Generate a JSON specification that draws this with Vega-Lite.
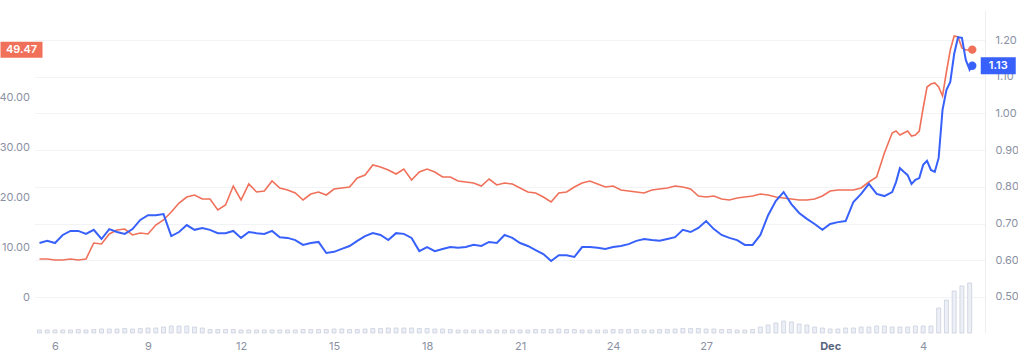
{
  "$schema": "https://vega.github.io/schema/vega-lite/v6.json",
  "width": 1018,
  "height": 356,
  "autosize": {"type": "fit", "contains": "padding"},
  "padding": {"left": -1.5, "top": 10, "right": -1, "bottom": 5},
  "background": "white",
  "config": {
    "view": {"stroke": null},
    "font": "Inter",
    "axis": {"labelFont": "Inter", "labelColor": "#8a91a3", "labelFontSize": 11, "ticks": false, "domain": false, "grid": false}
  },
  "datasets": {
    "d": [
      {"t":"2021-11-05T12:00:00Z","orange":7.6,"blue":0.647,"vol":6},
      {"t":"2021-11-05T18:00:00Z","orange":7.6,"blue":0.653,"vol":6},
      {"t":"2021-11-06T00:00:00Z","orange":7.4,"blue":0.647,"vol":6},
      {"t":"2021-11-06T06:00:00Z","orange":7.4,"blue":0.669,"vol":6},
      {"t":"2021-11-06T12:00:00Z","orange":7.6,"blue":0.680,"vol":6},
      {"t":"2021-11-06T18:00:00Z","orange":7.4,"blue":0.680,"vol":7},
      {"t":"2021-11-07T00:00:00Z","orange":7.6,"blue":0.672,"vol":6},
      {"t":"2021-11-07T06:00:00Z","orange":10.8,"blue":0.683,"vol":7},
      {"t":"2021-11-07T12:00:00Z","orange":10.6,"blue":0.658,"vol":8},
      {"t":"2021-11-07T18:00:00Z","orange":12.6,"blue":0.685,"vol":8},
      {"t":"2021-11-08T00:00:00Z","orange":13.4,"blue":0.677,"vol":8},
      {"t":"2021-11-08T06:00:00Z","orange":13.6,"blue":0.672,"vol":9},
      {"t":"2021-11-08T12:00:00Z","orange":12.4,"blue":0.685,"vol":8},
      {"t":"2021-11-08T18:00:00Z","orange":12.8,"blue":0.710,"vol":9},
      {"t":"2021-11-09T00:00:00Z","orange":12.6,"blue":0.723,"vol":10},
      {"t":"2021-11-09T06:00:00Z","orange":14.4,"blue":0.723,"vol":10},
      {"t":"2021-11-09T12:00:00Z","orange":15.4,"blue":0.726,"vol":12},
      {"t":"2021-11-09T18:00:00Z","orange":17.0,"blue":0.666,"vol":14},
      {"t":"2021-11-10T00:00:00Z","orange":18.8,"blue":0.677,"vol":14},
      {"t":"2021-11-10T06:00:00Z","orange":20.0,"blue":0.696,"vol":14},
      {"t":"2021-11-10T12:00:00Z","orange":20.4,"blue":0.683,"vol":12},
      {"t":"2021-11-10T18:00:00Z","orange":19.6,"blue":0.688,"vol":10},
      {"t":"2021-11-11T00:00:00Z","orange":19.6,"blue":0.683,"vol":7},
      {"t":"2021-11-11T06:00:00Z","orange":17.4,"blue":0.674,"vol":7},
      {"t":"2021-11-11T12:00:00Z","orange":18.4,"blue":0.674,"vol":7},
      {"t":"2021-11-11T18:00:00Z","orange":22.2,"blue":0.680,"vol":7},
      {"t":"2021-11-12T00:00:00Z","orange":19.4,"blue":0.661,"vol":6},
      {"t":"2021-11-12T06:00:00Z","orange":22.6,"blue":0.677,"vol":6},
      {"t":"2021-11-12T12:00:00Z","orange":21.0,"blue":0.674,"vol":6},
      {"t":"2021-11-12T18:00:00Z","orange":21.2,"blue":0.672,"vol":6},
      {"t":"2021-11-13T00:00:00Z","orange":23.2,"blue":0.680,"vol":6},
      {"t":"2021-11-13T06:00:00Z","orange":21.8,"blue":0.663,"vol":6},
      {"t":"2021-11-13T12:00:00Z","orange":21.4,"blue":0.661,"vol":6},
      {"t":"2021-11-13T18:00:00Z","orange":20.8,"blue":0.655,"vol":6},
      {"t":"2021-11-14T00:00:00Z","orange":19.4,"blue":0.642,"vol":7},
      {"t":"2021-11-14T06:00:00Z","orange":20.6,"blue":0.647,"vol":7},
      {"t":"2021-11-14T12:00:00Z","orange":21.0,"blue":0.650,"vol":7},
      {"t":"2021-11-14T18:00:00Z","orange":20.4,"blue":0.620,"vol":7},
      {"t":"2021-11-15T00:00:00Z","orange":21.6,"blue":0.623,"vol":8},
      {"t":"2021-11-15T06:00:00Z","orange":21.8,"blue":0.631,"vol":8},
      {"t":"2021-11-15T12:00:00Z","orange":22.0,"blue":0.639,"vol":7},
      {"t":"2021-11-15T18:00:00Z","orange":23.8,"blue":0.653,"vol":7},
      {"t":"2021-11-16T00:00:00Z","orange":24.4,"blue":0.666,"vol":8},
      {"t":"2021-11-16T06:00:00Z","orange":26.4,"blue":0.674,"vol":9},
      {"t":"2021-11-16T12:00:00Z","orange":26.0,"blue":0.669,"vol":9},
      {"t":"2021-11-16T18:00:00Z","orange":25.4,"blue":0.655,"vol":10},
      {"t":"2021-11-17T00:00:00Z","orange":24.6,"blue":0.674,"vol":10},
      {"t":"2021-11-17T06:00:00Z","orange":25.6,"blue":0.672,"vol":10},
      {"t":"2021-11-17T12:00:00Z","orange":23.4,"blue":0.661,"vol":10},
      {"t":"2021-11-17T18:00:00Z","orange":25.0,"blue":0.625,"vol":9},
      {"t":"2021-11-18T00:00:00Z","orange":25.6,"blue":0.636,"vol":9},
      {"t":"2021-11-18T06:00:00Z","orange":25.0,"blue":0.625,"vol":8},
      {"t":"2021-11-18T12:00:00Z","orange":24.0,"blue":0.631,"vol":8},
      {"t":"2021-11-18T18:00:00Z","orange":24.0,"blue":0.636,"vol":7},
      {"t":"2021-11-19T00:00:00Z","orange":23.2,"blue":0.634,"vol":6},
      {"t":"2021-11-19T06:00:00Z","orange":23.0,"blue":0.636,"vol":6},
      {"t":"2021-11-19T12:00:00Z","orange":22.8,"blue":0.642,"vol":6},
      {"t":"2021-11-19T18:00:00Z","orange":22.2,"blue":0.639,"vol":6},
      {"t":"2021-11-20T00:00:00Z","orange":23.6,"blue":0.650,"vol":6},
      {"t":"2021-11-20T06:00:00Z","orange":22.4,"blue":0.647,"vol":6},
      {"t":"2021-11-20T12:00:00Z","orange":22.8,"blue":0.669,"vol":6},
      {"t":"2021-11-20T18:00:00Z","orange":22.6,"blue":0.661,"vol":6},
      {"t":"2021-11-21T00:00:00Z","orange":21.8,"blue":0.647,"vol":6},
      {"t":"2021-11-21T06:00:00Z","orange":21.0,"blue":0.639,"vol":6},
      {"t":"2021-11-21T12:00:00Z","orange":20.8,"blue":0.628,"vol":7},
      {"t":"2021-11-21T18:00:00Z","orange":20.0,"blue":0.617,"vol":7},
      {"t":"2021-11-22T00:00:00Z","orange":19.0,"blue":0.598,"vol":7},
      {"t":"2021-11-22T06:00:00Z","orange":20.8,"blue":0.614,"vol":8},
      {"t":"2021-11-22T12:00:00Z","orange":21.0,"blue":0.614,"vol":7},
      {"t":"2021-11-22T18:00:00Z","orange":22.0,"blue":0.609,"vol":7},
      {"t":"2021-11-23T00:00:00Z","orange":22.8,"blue":0.636,"vol":6},
      {"t":"2021-11-23T06:00:00Z","orange":23.2,"blue":0.636,"vol":6},
      {"t":"2021-11-23T12:00:00Z","orange":22.6,"blue":0.634,"vol":6},
      {"t":"2021-11-23T18:00:00Z","orange":22.0,"blue":0.631,"vol":6},
      {"t":"2021-11-24T00:00:00Z","orange":22.2,"blue":0.636,"vol":7},
      {"t":"2021-11-24T06:00:00Z","orange":21.4,"blue":0.639,"vol":7},
      {"t":"2021-11-24T12:00:00Z","orange":21.2,"blue":0.644,"vol":7},
      {"t":"2021-11-24T18:00:00Z","orange":21.0,"blue":0.653,"vol":7},
      {"t":"2021-11-25T00:00:00Z","orange":20.8,"blue":0.658,"vol":6},
      {"t":"2021-11-25T06:00:00Z","orange":21.4,"blue":0.655,"vol":6},
      {"t":"2021-11-25T12:00:00Z","orange":21.6,"blue":0.653,"vol":7},
      {"t":"2021-11-25T18:00:00Z","orange":21.8,"blue":0.658,"vol":7},
      {"t":"2021-11-26T00:00:00Z","orange":22.2,"blue":0.663,"vol":8},
      {"t":"2021-11-26T06:00:00Z","orange":22.0,"blue":0.683,"vol":9},
      {"t":"2021-11-26T12:00:00Z","orange":21.6,"blue":0.677,"vol":9},
      {"t":"2021-11-26T18:00:00Z","orange":20.2,"blue":0.688,"vol":9},
      {"t":"2021-11-27T00:00:00Z","orange":20.0,"blue":0.707,"vol":8},
      {"t":"2021-11-27T06:00:00Z","orange":20.2,"blue":0.685,"vol":8},
      {"t":"2021-11-27T12:00:00Z","orange":19.6,"blue":0.669,"vol":7},
      {"t":"2021-11-27T18:00:00Z","orange":19.4,"blue":0.661,"vol":7},
      {"t":"2021-11-28T00:00:00Z","orange":19.8,"blue":0.655,"vol":6},
      {"t":"2021-11-28T06:00:00Z","orange":20.0,"blue":0.642,"vol":6},
      {"t":"2021-11-28T12:00:00Z","orange":20.2,"blue":0.642,"vol":7},
      {"t":"2021-11-28T18:00:00Z","orange":20.6,"blue":0.669,"vol":12},
      {"t":"2021-11-29T00:00:00Z","orange":20.4,"blue":0.723,"vol":16},
      {"t":"2021-11-29T06:00:00Z","orange":20.0,"blue":0.762,"vol":20},
      {"t":"2021-11-29T12:00:00Z","orange":19.8,"blue":0.786,"vol":24},
      {"t":"2021-11-29T18:00:00Z","orange":19.6,"blue":0.753,"vol":22},
      {"t":"2021-11-30T00:00:00Z","orange":19.4,"blue":0.729,"vol":18},
      {"t":"2021-11-30T06:00:00Z","orange":19.4,"blue":0.713,"vol":16},
      {"t":"2021-11-30T12:00:00Z","orange":19.6,"blue":0.699,"vol":12},
      {"t":"2021-11-30T18:00:00Z","orange":20.2,"blue":0.683,"vol":10},
      {"t":"2021-12-01T00:00:00Z","orange":21.2,"blue":0.699,"vol":8},
      {"t":"2021-12-01T06:00:00Z","orange":21.4,"blue":0.704,"vol":8},
      {"t":"2021-12-01T12:00:00Z","orange":21.4,"blue":0.707,"vol":10},
      {"t":"2021-12-01T18:00:00Z","orange":21.4,"blue":0.759,"vol":10},
      {"t":"2021-12-02T00:00:00Z","orange":21.8,"blue":0.781,"vol":12},
      {"t":"2021-12-02T06:00:00Z","orange":23.0,"blue":0.808,"vol":12},
      {"t":"2021-12-02T12:00:00Z","orange":24.0,"blue":0.781,"vol":14},
      {"t":"2021-12-02T18:00:00Z","orange":28.8,"blue":0.775,"vol":14},
      {"t":"2021-12-03T00:00:00Z","orange":32.8,"blue":0.786,"vol":12},
      {"t":"2021-12-03T03:00:00Z","orange":33.2,"blue":0.813},
      {"t":"2021-12-03T06:00:00Z","orange":32.4,"blue":0.851,"vol":12},
      {"t":"2021-12-03T09:00:00Z","orange":32.8,"blue":0.841},
      {"t":"2021-12-03T12:00:00Z","orange":33.2,"blue":0.832,"vol":12},
      {"t":"2021-12-03T15:00:00Z","orange":32.2,"blue":0.808},
      {"t":"2021-12-03T18:00:00Z","orange":32.4,"blue":0.819,"vol":14},
      {"t":"2021-12-03T21:00:00Z","orange":33.2,"blue":0.824},
      {"t":"2021-12-04T00:00:00Z","orange":37.8,"blue":0.860,"vol":14},
      {"t":"2021-12-04T03:00:00Z","orange":42.0,"blue":0.871},
      {"t":"2021-12-04T06:00:00Z","orange":42.6,"blue":0.846,"vol":14},
      {"t":"2021-12-04T09:00:00Z","orange":42.8,"blue":0.841},
      {"t":"2021-12-04T12:00:00Z","orange":42.0,"blue":0.879,"vol":50},
      {"t":"2021-12-04T15:00:00Z","orange":40.2,"blue":1.010},
      {"t":"2021-12-04T18:00:00Z","orange":45.0,"blue":1.064,"vol":66},
      {"t":"2021-12-04T21:00:00Z","orange":49.4,"blue":1.086},
      {"t":"2021-12-05T00:00:00Z","orange":52.2,"blue":1.162,"vol":84},
      {"t":"2021-12-05T03:00:00Z","orange":52.0,"blue":1.208},
      {"t":"2021-12-05T06:00:00Z","orange":49.8,"blue":1.206,"vol":94},
      {"t":"2021-12-05T09:00:00Z","orange":49.4,"blue":1.146},
      {"t":"2021-12-05T12:00:00Z","orange":49.4,"blue":1.119,"vol":100},
      {"t":"2021-12-05T14:00:00Z","orange":49.47,"blue":1.13}
    ]
  },
  "data": {"name": "d"},
  "encoding": {
    "x": {
      "field": "t", "type": "temporal", "title": null,
      "scale": {"type": "utc", "domain": [
        {"year": 2021, "month": 11, "date": 5, "hours": 12, "utc": true},
        {"year": 2021, "month": 12, "date": 5, "hours": 20, "utc": true}
      ]},
      "axis": {
        "values": [
          {"year": 2021, "month": 11, "date": 6, "utc": true},
          {"year": 2021, "month": 11, "date": 9, "utc": true},
          {"year": 2021, "month": 11, "date": 12, "utc": true},
          {"year": 2021, "month": 11, "date": 15, "utc": true},
          {"year": 2021, "month": 11, "date": 18, "utc": true},
          {"year": 2021, "month": 11, "date": 21, "utc": true},
          {"year": 2021, "month": 11, "date": 24, "utc": true},
          {"year": 2021, "month": 11, "date": 27, "utc": true},
          {"year": 2021, "month": 12, "date": 1, "utc": true},
          {"year": 2021, "month": 12, "date": 4, "utc": true}
        ],
        "labelExpr": "utcdate(datum.value) == 1 ? utcFormat(datum.value, '%b') : utcFormat(datum.value, '%-d')",
        "labelFontWeight": {"condition": {"test": "utcdate(datum.value) == 1", "value": "bold"}, "value": "normal"},
        "labelColor": {"condition": {"test": "utcdate(datum.value) == 1", "value": "#58667e"}, "value": "#8a91a3"},
        "labelPadding": 7,
        "labelFlush": false
      }
    }
  },
  "layer": [
    {
      "mark": {"type": "bar", "width": 4, "fill": "#eceff5", "stroke": "#c5ccdb", "strokeWidth": 0.7},
      "encoding": {
        "y": {"field": "vol", "type": "quantitative", "title": null, "scale": {"domain": [0, 646]}, "axis": null}
      }
    },
    {
      "mark": {"type": "line", "color": "#f0705a", "strokeWidth": 1.6},
      "encoding": {
        "y": {
          "field": "orange", "type": "quantitative", "title": null,
          "scale": {"domain": [-7.2, 57.4], "nice": false, "zero": false},
          "axis": {
            "orient": "left",
            "values": [0, 10, 20, 30, 40],
            "labelExpr": "datum.value == 0 ? '0' : format(datum.value, '.2f')",
            "labelPadding": 5
          }
        }
      }
    },
    {
      "mark": {"type": "line", "color": "#3861fb", "strokeWidth": 2},
      "encoding": {
        "y": {
          "field": "blue", "type": "quantitative", "title": null,
          "scale": {"domain": [0.4019, 1.282], "nice": false, "zero": false},
          "axis": {
            "orient": "right",
            "values": [0.5, 0.6, 0.7, 0.8, 0.9, 1.0, 1.1, 1.2],
            "format": ".2f",
            "labelPadding": 10,
            "grid": true,
            "gridColor": "#f1f3f6",
            "domain": true,
            "domainColor": "#eceef2"
          }
        }
      }
    },
    {
      "mark": {"type": "point", "filled": true, "opacity": 1, "color": "#f0705a", "size": 70},
      "encoding": {
        "x": {"aggregate": "max", "field": "t", "type": "temporal"},
        "y": {"aggregate": {"argmax": "t"}, "field": "orange", "type": "quantitative", "scale": {"domain": [-7.2, 57.4], "nice": false, "zero": false}, "axis": null}
      }
    },
    {
      "mark": {"type": "point", "shape": "M-21,-8H21V8H-21Z", "size": 4, "filled": true, "opacity": 1, "color": "#f0705a", "xOffset": -18},
      "encoding": {
        "x": {"aggregate": "min", "field": "t", "type": "temporal"},
        "y": {"aggregate": {"argmax": "t"}, "field": "orange", "type": "quantitative", "scale": {"domain": [-7.2, 57.4], "nice": false, "zero": false}, "axis": null}
      }
    },
    {
      "mark": {"type": "text", "color": "white", "fontSize": 11, "fontWeight": 600, "font": "Inter", "xOffset": -18, "align": "center", "baseline": "middle"},
      "encoding": {
        "x": {"aggregate": "min", "field": "t", "type": "temporal"},
        "y": {"aggregate": {"argmax": "t"}, "field": "orange", "type": "quantitative", "scale": {"domain": [-7.2, 57.4], "nice": false, "zero": false}, "axis": null},
        "text": {"aggregate": {"argmax": "t"}, "field": "orange", "type": "quantitative", "format": ".2f"}
      }
    },
    {
      "mark": {"type": "point", "filled": true, "opacity": 1, "color": "#3861fb", "size": 70},
      "encoding": {
        "x": {"aggregate": "max", "field": "t", "type": "temporal"},
        "y": {"aggregate": {"argmax": "t"}, "field": "blue", "type": "quantitative", "scale": {"domain": [0.4019, 1.282], "nice": false, "zero": false}, "axis": null}
      }
    },
    {
      "mark": {"type": "point", "shape": "M-17.5,-8.5H17.5V8.5H-17.5Z", "size": 4, "filled": true, "opacity": 1, "color": "#3861fb", "xOffset": 26},
      "encoding": {
        "x": {"aggregate": "max", "field": "t", "type": "temporal"},
        "y": {"aggregate": {"argmax": "t"}, "field": "blue", "type": "quantitative", "scale": {"domain": [0.4019, 1.282], "nice": false, "zero": false}, "axis": null}
      }
    },
    {
      "mark": {"type": "text", "color": "white", "fontSize": 11, "fontWeight": 600, "font": "Inter", "xOffset": 26, "align": "center", "baseline": "middle"},
      "encoding": {
        "x": {"aggregate": "max", "field": "t", "type": "temporal"},
        "y": {"aggregate": {"argmax": "t"}, "field": "blue", "type": "quantitative", "scale": {"domain": [0.4019, 1.282], "nice": false, "zero": false}, "axis": null},
        "text": {"aggregate": {"argmax": "t"}, "field": "blue", "type": "quantitative", "format": ".2f"}
      }
    },
    {
      "data": {"values": [{"label": "CoinMarketCap"}]},
      "mark": {"type": "text", "fontSize": 16, "fontWeight": 500, "font": "Inter", "color": "#cdd1da", "align": "center", "baseline": "middle"},
      "encoding": {
        "x": {"datum": {"year": 2021, "month": 12, "date": 2, "hours": 18, "utc": true}, "type": "temporal"},
        "y": {"datum": 0.294, "type": "quantitative", "scale": {"domain": [0, 1]}, "axis": null},
        "text": {"field": "label"}
      }
    },
    {
      "data": {"values": [{"label": "logo"}]},
      "mark": {"type": "point", "shape": "circle", "size": 300, "filled": false, "strokeWidth": 2.5, "color": "#cdd1da", "opacity": 1},
      "encoding": {
        "x": {"datum": {"year": 2021, "month": 11, "date": 30, "hours": 10, "utc": true}, "type": "temporal"},
        "y": {"datum": 0.294, "type": "quantitative", "scale": {"domain": [0, 1]}, "axis": null}
      }
    }
  ],
  "resolve": {"scale": {"y": "independent"}, "axis": {"y": "independent"}}
}
